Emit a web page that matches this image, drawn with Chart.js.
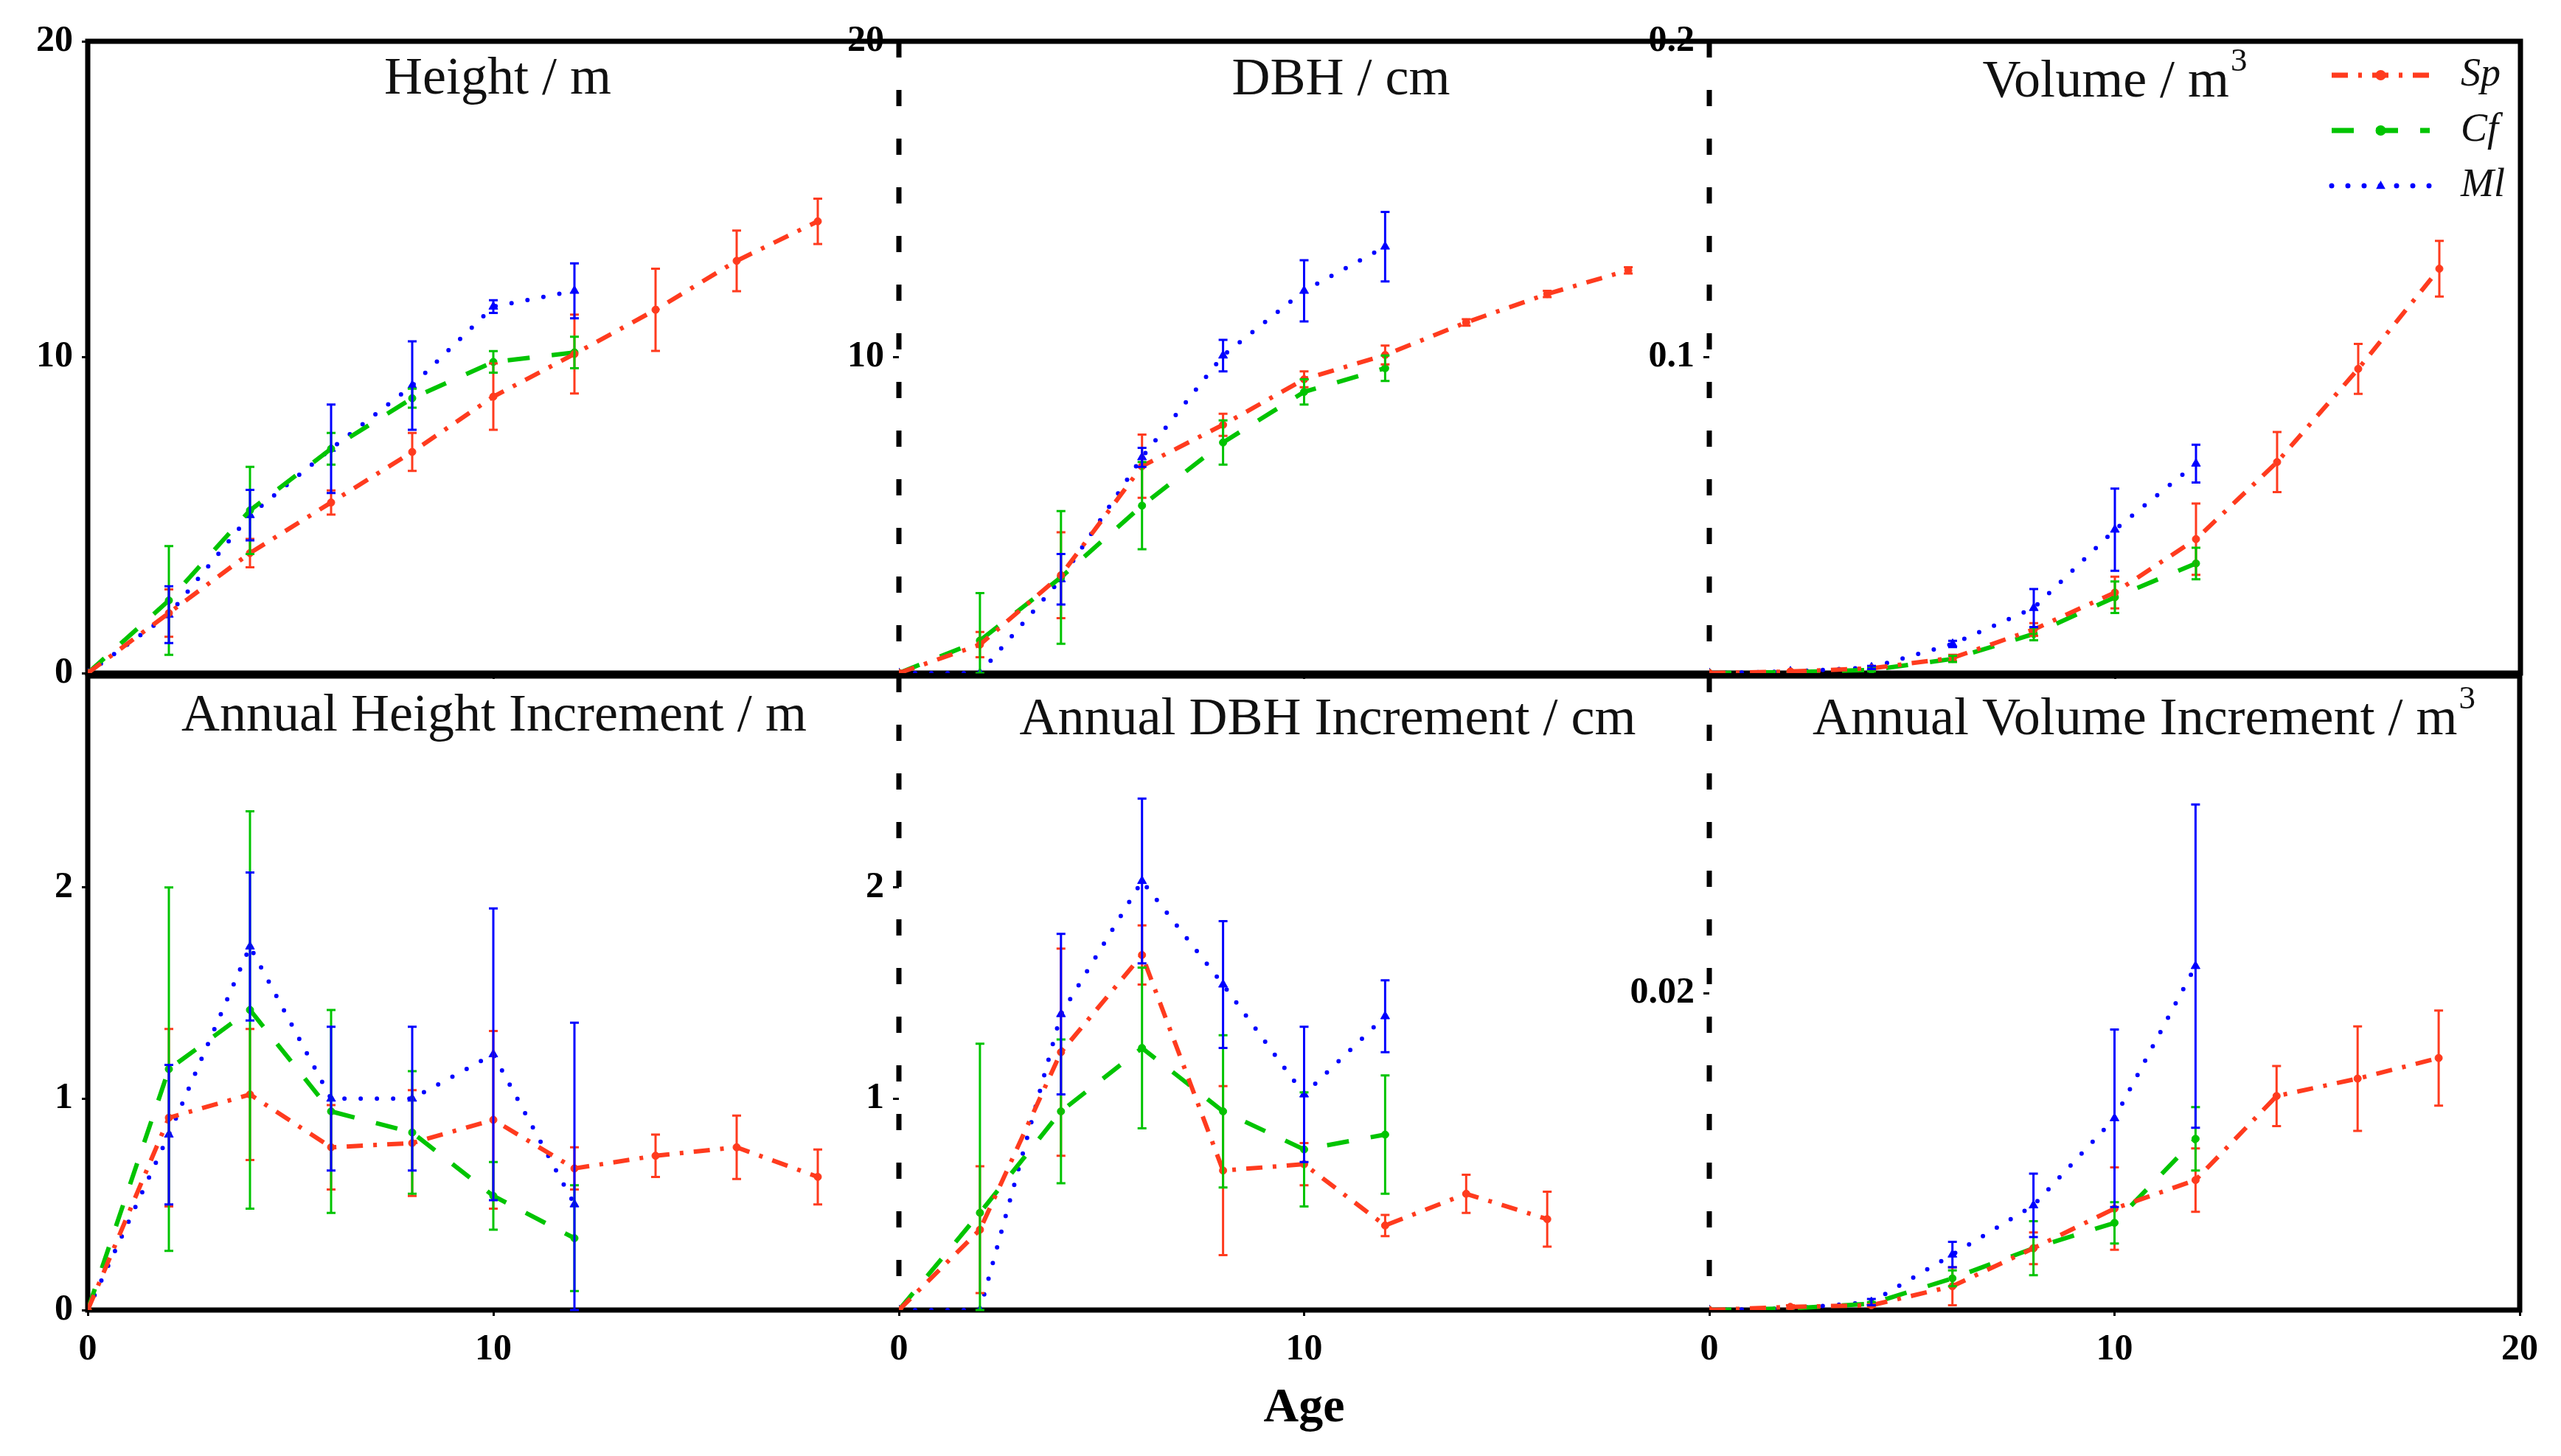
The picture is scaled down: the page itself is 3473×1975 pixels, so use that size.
<!DOCTYPE html>
<html>
<head>
<meta charset="utf-8">
<title>Growth of Sp, Cf and Ml</title>
<script src="https://cdn.jsdelivr.net/npm/chart.js@4.4.1/dist/chart.umd.min.js"></script>
<style>
  html, body { margin: 0; padding: 0; background: #fff; }
  body { width: 3473px; height: 1975px; position: relative; overflow: hidden; }
  canvas { position: absolute; }
</style>
</head>
<body>
<canvas id="cHeight"></canvas>
<canvas id="cDbh"></canvas>
<canvas id="cVolume"></canvas>
<canvas id="cHeightInc"></canvas>
<canvas id="cDbhInc"></canvas>
<canvas id="cVolumeInc"></canvas>
<script>
// ages (x values)
const ages = [0, 2, 4, 6, 8, 10, 12, 14, 16, 18];

// Height / m
const heightSp = [0, 1.9, 3.8, 5.4, 7.0, 8.75, 10.1, 11.5, 13.05, 14.3];
const heightSpErr = [0, 0.75, 0.45, 0.38, 0.6, 1.05, 1.25, 1.3, 0.96, 0.72];
const heightCf = [0, 2.3, 5.15, 7.1, 8.7, 9.85, 10.15];
const heightCfErr = [0, 1.72, 1.38, 0.5, 0.3, 0.34, 0.5];
const heightMl = [0, 1.85, 5.0, 7.1, 9.1, 11.6, 12.1];
const heightMlErr = [0, 0.9, 0.8, 1.4, 1.4, 0.2, 0.87];

// DBH / cm
const dbhSp = [0, 0.9, 3.1, 6.55, 7.86, 9.3, 10.07, 11.1, 12.0, 12.75];
const dbhSpErr = [0, 0.4, 1.36, 1.0, 0.35, 0.25, 0.3, 0.1, 0.1, 0.1];
const dbhCf = [0, 1.03, 3.03, 5.3, 7.3, 8.9, 9.65];
const dbhCfErr = [0, 1.5, 2.1, 1.38, 0.7, 0.4, 0.4];
const dbhMl = [0, 0, 2.97, 6.83, 10.05, 12.1, 13.5];
const dbhMlErr = [0, 0, 0.8, 0.3, 0.5, 0.97, 1.1];

// Volume / m3
const volSp = [0, 0.0005, 0.0015, 0.0048, 0.0138, 0.0255, 0.0424, 0.0668, 0.0963, 0.128];
const volSpErr = [0, 0, 0.0005, 0.001, 0.002, 0.005, 0.0113, 0.0095, 0.0079, 0.0088];
const volCf = [0, 0.0003, 0.001, 0.0045, 0.0124, 0.024, 0.0347];
const volCfErr = [0, 0, 0.0005, 0.001, 0.002, 0.005, 0.005];
const volMl = [0, 0.0005, 0.0018, 0.0092, 0.0206, 0.0454, 0.0663];
const volMlErr = [0, 0, 0.0005, 0.001, 0.006, 0.013, 0.006];

// Annual height increment / m
const hIncSp = [0, 0.91, 1.02, 0.77, 0.79, 0.9, 0.67, 0.73, 0.77, 0.63];
const hIncSpErr = [0, 0.42, 0.31, 0.2, 0.25, 0.42, 0.1, 0.1, 0.15, 0.13];
const hIncCf = [0, 1.14, 1.42, 0.94, 0.84, 0.54, 0.34];
const hIncCfErr = [0, 0.86, 0.94, 0.48, 0.29, 0.16, 0.25];
const hIncMl = [0, 0.83, 1.72, 1.0, 1.0, 1.21, 0.5];
const hIncMlErr = [0, 0.33, 0.35, 0.34, 0.34, 0.69, 0.86];

// Annual DBH increment / cm
const dIncSp = [0, 0.38, 1.22, 1.68, 0.66, 0.69, 0.4, 0.55, 0.43];
const dIncSpErr = [0, 0.3, 0.49, 0.14, 0.4, 0.1, 0.05, 0.09, 0.13];
const dIncCf = [0, 0.46, 0.94, 1.24, 0.94, 0.76, 0.83];
const dIncCfErr = [0, 0.8, 0.34, 0.38, 0.36, 0.27, 0.28];
const dIncMl = [0, 0, 1.4, 2.03, 1.54, 1.02, 1.39];
const dIncMlErr = [0, 0, 0.38, 0.39, 0.3, 0.32, 0.17];

// Annual volume increment / m3
const vIncSp = [0, 0.0002, 0.0003, 0.0015, 0.0039, 0.0064, 0.0082, 0.0135, 0.0146, 0.0159];
const vIncSpErr = [0, 0.0001, 0.0001, 0.0012, 0.001, 0.0026, 0.002, 0.0019, 0.0033, 0.003];
const vIncCf = [0, 0.0001, 0.0004, 0.002, 0.0039, 0.0055, 0.0108];
const vIncCfErr = [0, 0, 0.0001, 0.0005, 0.0017, 0.0013, 0.002];
const vIncMl = [0, 0.0001, 0.0005, 0.0035, 0.0066, 0.0121, 0.0217];
const vIncMlErr = [0, 0, 0.0002, 0.0008, 0.002, 0.0056, 0.0102];

// tick labels that are printed
const heightTicks = [0, 10, 20];
const dbhTicks = [10, 20];
const volTicks = [0.1, 0.2];
const hIncTicks = [0, 1, 2];
const dIncTicks = [1, 2];
const vIncTicks = [0.02];
const xTicksLeft = [0, 10];
const xTicksRight = [0, 10, 20];
const xTickMarks = [0, 10, 20];

const seriesNames = ['Sp', 'Cf', 'Ml'];
const seriesColors = ['#ff3b1e', '#00c400', '#0000ff'];
const seriesDash = [[22, 14, 5, 14], [30, 30], [0, 22]];
const seriesCap = ['butt', 'butt', 'round'];
const seriesMarker = ['circle', 'circle', 'triangle'];

// page geometry (px)
const colX = [119, 1219, 2318, 3418];
const rowY = [54, 915, 1777];
const AXW = 170, PADT = 40, PADR = 40;
const SERIF = '"Liberation Serif", "DejaVu Serif", serif';

Chart.defaults.font.family = SERIF;

function series(values, errs, k) {
  return {
    label: seriesNames[k],
    data: values.map((v, i) => ({ x: ages[i], y: v })),
    errors: errs,
    borderColor: seriesColors[k],
    backgroundColor: seriesColors[k],
    borderWidth: 6,
    borderDash: seriesDash[k],
    borderCapStyle: seriesCap[k],
    pointStyle: seriesMarker[k],
    pointRadius: k === 2 ? 7 : 5,
    pointBorderWidth: 1,
    pointBackgroundColor: seriesColors[k],
    tension: 0,
    fill: false
  };
}

const hasTick = (list, v) => list.some(t => Math.abs(t - v) < 1e-9);

function pickLabel(list) {
  return v => {
    const m = list.find(t => Math.abs(t - v) < 1e-9);
    return m === undefined ? '' : String(m);
  };
}

function drawMarker(ctx, style, x, y, r) {
  ctx.beginPath();
  if (style === 'triangle') {
    ctx.moveTo(x, y - r);
    ctx.lineTo(x + r * 0.9, y + r * 0.6);
    ctx.lineTo(x - r * 0.9, y + r * 0.6);
    ctx.closePath();
  } else {
    ctx.arc(x, y, r, 0, Math.PI * 2);
  }
  ctx.fill();
}

// frame, error bars, panel title, legend
function panelPlugin(p) {
  return {
    id: 'panel',
    beforeDatasetsDraw(chart) {
      const { ctx, chartArea: a } = chart;
      ctx.save();
      ctx.strokeStyle = '#000';
      ctx.lineWidth = 7;
      const x0 = p.col === 0 ? a.left - 3.5 : a.left;
      const x1 = p.col === 2 ? a.right + 3.5 : a.right;
      ctx.beginPath();
      ctx.moveTo(x0, a.top); ctx.lineTo(x1, a.top);
      ctx.moveTo(x0, a.bottom); ctx.lineTo(x1, a.bottom);
      if (p.col === 0) {
        ctx.moveTo(a.left, a.top); ctx.lineTo(a.left, a.bottom);
      }
      if (p.col === 2) {
        ctx.moveTo(a.right, a.top); ctx.lineTo(a.right, a.bottom);
      }
      ctx.stroke();
      if (p.col > 0) {
        ctx.setLineDash([22, 44]);
        ctx.beginPath();
        ctx.moveTo(a.left, a.top); ctx.lineTo(a.left, a.bottom);
        ctx.stroke();
      }
      ctx.restore();
    },
    afterDatasetsDraw(chart) {
      const { ctx, chartArea: a, scales: { x, y } } = chart;
      // error bars
      chart.data.datasets.forEach(ds => {
        ctx.save();
        ctx.strokeStyle = ds.borderColor;
        ctx.lineWidth = 3;
        ds.data.forEach((pt, i) => {
          const e = ds.errors[i];
          if (!e) return;
          const px = x.getPixelForValue(pt.x);
          const hi = y.getPixelForValue(Math.min(pt.y + e, y.max));
          const lo = y.getPixelForValue(Math.max(pt.y - e, y.min));
          ctx.beginPath();
          ctx.moveTo(px, hi); ctx.lineTo(px, lo);
          ctx.moveTo(px - 6, hi); ctx.lineTo(px + 6, hi);
          ctx.moveTo(px - 6, lo); ctx.lineTo(px + 6, lo);
          ctx.stroke();
        });
        ctx.restore();
      });
      // title
      ctx.save();
      ctx.fillStyle = '#111';
      ctx.textBaseline = 'middle';
      ctx.textAlign = 'left';
      const mainFont = '72px ' + SERIF, supFont = '45px ' + SERIF;
      ctx.font = mainFont;
      const w1 = ctx.measureText(p.title).width;
      ctx.font = supFont;
      const w2 = p.sup ? ctx.measureText(p.sup).width + 2 : 0;
      const cx = (a.left + a.right) / 2 + p.dx;
      const tx = cx - (w1 + w2) / 2, ty = a.top + p.dy;
      ctx.font = mainFont;
      ctx.fillText(p.title, tx, ty);
      if (p.sup) {
        ctx.font = supFont;
        ctx.fillText(p.sup, tx + w1 + 2, ty - 28);
      }
      ctx.restore();
      // legend
      if (p.legend) {
        ctx.save();
        chart.data.datasets.forEach((ds, k) => {
          const ly = a.top + 46 + k * 75;
          const lx0 = a.right - 256, lx1 = a.right - 123;
          ctx.strokeStyle = seriesColors[k];
          ctx.fillStyle = seriesColors[k];
          ctx.lineWidth = 7;
          ctx.lineCap = seriesCap[k];
          ctx.setLineDash(seriesDash[k]);
          ctx.beginPath();
          ctx.moveTo(lx0, ly); ctx.lineTo(lx1, ly);
          ctx.stroke();
          ctx.setLineDash([]);
          drawMarker(ctx, seriesMarker[k], (lx0 + lx1) / 2, ly, 7);
          ctx.fillStyle = '#111';
          ctx.font = 'italic 54px ' + SERIF;
          ctx.textBaseline = 'middle';
          ctx.textAlign = 'left';
          ctx.fillText(seriesNames[k], a.right - 81, ly);
        });
        ctx.restore();
      }
    }
  };
}

function makePanel(id, col, row, p) {
  const left = colX[col], right = colX[col + 1];
  const top = rowY[row], bottom = rowY[row + 1];
  const axh = row === 1 ? 190 : 40;
  const cv = document.getElementById(id);
  const w = right - left + AXW + PADR;
  const h = bottom - top + PADT + axh;
  cv.width = w; cv.height = h;
  cv.style.width = w + 'px'; cv.style.height = h + 'px';
  cv.style.left = (left - AXW) + 'px';
  cv.style.top = (top - PADT) + 'px';
  p.col = col;

  const tickFont = { size: 50, weight: 'bold', family: SERIF };
  const marks = list => ({
    drawOnChartArea: false, drawTicks: true, tickLength: 8, lineWidth: 3,
    color: c => (c.tick && hasTick(list, c.tick.value)) ? '#000' : 'rgba(0,0,0,0)'
  });

  new Chart(cv, {
    type: 'line',
    data: {
      datasets: [
        series(p.sp, p.spErr, 0),
        series(p.cf, p.cfErr, 1),
        series(p.ml, p.mlErr, 2)
      ]
    },
    options: {
      responsive: false,
      animation: false,
      devicePixelRatio: 1,
      events: [],
      layout: { padding: { top: PADT, right: PADR, left: 0, bottom: 0 } },
      plugins: { legend: { display: false }, tooltip: { enabled: false } },
      scales: {
        x: {
          type: 'linear',
          min: 0, max: 20,
          ticks: {
            stepSize: 10,
            autoSkip: false,
            maxRotation: 0,
            padding: 16,
            color: '#000',
            font: tickFont,
            callback: pickLabel(p.xTicks)
          },
          grid: marks(xTickMarks),
          border: { display: false },
          title: {
            display: !!p.xTitle,
            text: p.xTitle || '',
            color: '#000',
            font: { size: 66, weight: 'bold', family: SERIF },
            padding: { top: 0, bottom: 16 }
          },
          afterFit: s => { s.height = axh; }
        },
        y: {
          type: 'linear',
          min: 0, max: p.yMax,
          ticks: {
            stepSize: p.yStep,
            autoSkip: false,
            padding: 12,
            color: '#000',
            font: tickFont,
            callback: pickLabel(p.yTicks)
          },
          grid: marks(p.yTicks),
          border: { display: false },
          afterFit: s => { s.width = AXW; }
        }
      }
    },
    plugins: [panelPlugin(p)]
  });
}

makePanel('cHeight', 0, 0, {
  sp: heightSp, spErr: heightSpErr, cf: heightCf, cfErr: heightCfErr, ml: heightMl, mlErr: heightMlErr,
  yMax: 20, yStep: 10, yTicks: heightTicks, xTicks: [],
  title: 'Height / m', dx: 6, dy: 52
});
makePanel('cDbh', 1, 0, {
  sp: dbhSp, spErr: dbhSpErr, cf: dbhCf, cfErr: dbhCfErr, ml: dbhMl, mlErr: dbhMlErr,
  yMax: 20, yStep: 10, yTicks: dbhTicks, xTicks: [],
  title: 'DBH / cm', dx: 50, dy: 53
});
makePanel('cVolume', 2, 0, {
  sp: volSp, spErr: volSpErr, cf: volCf, cfErr: volCfErr, ml: volMl, mlErr: volMlErr,
  yMax: 0.2, yStep: 0.1, yTicks: volTicks, xTicks: [],
  title: 'Volume / m', sup: '3', dx: 0, dy: 56, legend: true
});
makePanel('cHeightInc', 0, 1, {
  sp: hIncSp, spErr: hIncSpErr, cf: hIncCf, cfErr: hIncCfErr, ml: hIncMl, mlErr: hIncMlErr,
  yMax: 3, yStep: 1, yTicks: hIncTicks, xTicks: xTicksLeft,
  title: 'Annual Height Increment / m', dx: 1, dy: 55
});
makePanel('cDbhInc', 1, 1, {
  sp: dIncSp, spErr: dIncSpErr, cf: dIncCf, cfErr: dIncCfErr, ml: dIncMl, mlErr: dIncMlErr,
  yMax: 3, yStep: 1, yTicks: dIncTicks, xTicks: xTicksLeft,
  title: 'Annual DBH Increment / cm', dx: 32, dy: 60, xTitle: 'Age'
});
makePanel('cVolumeInc', 2, 1, {
  sp: vIncSp, spErr: vIncSpErr, cf: vIncCf, cfErr: vIncCfErr, ml: vIncMl, mlErr: vIncMlErr,
  yMax: 0.04, yStep: 0.01, yTicks: vIncTicks, xTicks: xTicksRight,
  title: 'Annual Volume Increment / m', sup: '3', dx: 40, dy: 60
});
</script>
</body>
</html>
